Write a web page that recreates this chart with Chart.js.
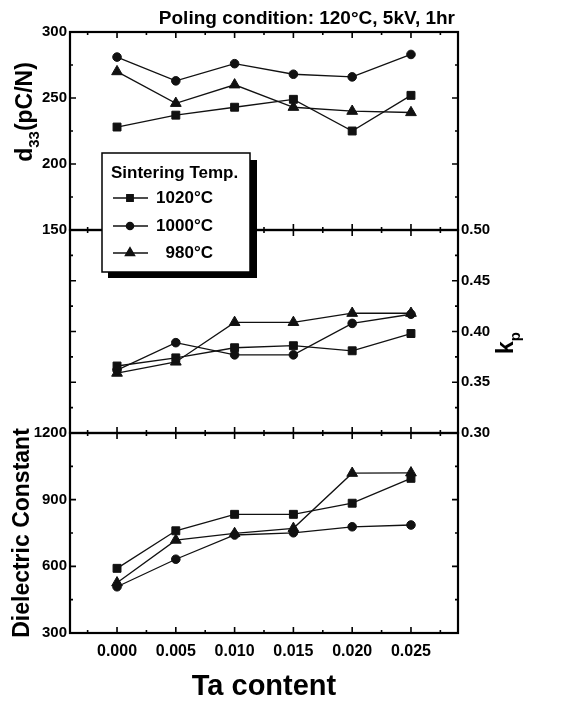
<!DOCTYPE html>
<html>
<head>
<meta charset="utf-8">
<script src="https://cdn.jsdelivr.net/npm/chart.js@4.4.1/dist/chart.umd.min.js"></script>
<style>
  body { margin: 0; background: #fff; }
  #wrap { position: relative; width: 575px; height: 705px; background: #fff; }
  #wrap canvas { position: absolute; left: 0; top: 0; }
</style>
</head>
<body>
<div id="wrap">
  <canvas id="epsChart" width="575" height="705"></canvas>
  <canvas id="kpChart" width="575" height="705"></canvas>
  <canvas id="d33Chart" width="575" height="705"></canvas>
</div>
<script>
// Ta content on the x axis
const taContent = [0.000, 0.005, 0.010, 0.015, 0.020, 0.025];
const xTicks = [0.000, 0.005, 0.010, 0.015, 0.020, 0.025];
const seriesLabels = ['1020°C', '1000°C', '980°C'];

// d33 (pC/N)
const d33_1020 = [228, 237, 243, 249, 225, 252];
const d33_1000 = [281, 263, 276, 268, 266, 283];
const d33_980 = [270, 246, 260, 243, 240, 239];
// kp
const kp_1020 = [0.366, 0.374, 0.384, 0.386, 0.381, 0.398];
const kp_1000 = [0.362, 0.389, 0.377, 0.377, 0.408, 0.417];
const kp_980 = [0.359, 0.370, 0.409, 0.409, 0.418, 0.418];
// dielectric constant
const eps_1020 = [591, 760, 834, 834, 884, 996];
const eps_1000 = [508, 632, 741, 751, 778, 786];
const eps_980 = [526, 718, 748, 771, 1019, 1021];

const d33Ticks = [150, 200, 250, 300];
const kpTicks = [0.30, 0.35, 0.40, 0.45, 0.50];
const epsTicks = [300, 600, 900, 1200];

const FONT = '"Liberation Sans", Arial, sans-serif';
const INK = '#111';
const pointStyles = ['rect', 'circle', 'triangle'];
const pointSizes = [5.6, 4.3, 6.2];

function makeSets(values) {
  return values.map((v, i) => ({
    label: seriesLabels[i],
    data: taContent.map((x, j) => ({ x: x, y: v[j] })),
    borderColor: INK,
    backgroundColor: INK,
    borderWidth: 1.3,
    pointStyle: pointStyles[i],
    pointRadius: pointSizes[i],
    pointBorderWidth: 1,
    tension: 0
  }));
}

// frame with inward major + minor ticks on all four sides
const framePlugin = {
  id: 'frame',
  afterDatasetsDraw(chart, args, opts) {
    const { ctx, chartArea: a, scales } = chart;
    const x = scales.x, y = scales.y;
    ctx.save();
    ctx.strokeStyle = '#000';
    ctx.lineWidth = 1.6;
    ctx.beginPath();
    const xs = [];
    xTicks.forEach(v => xs.push([v, 6], [v - 0.0025, 3]));
    xs.push([xTicks[xTicks.length - 1] + 0.0025, 3]);
    xs.forEach(([v, len]) => {
      const px = x.getPixelForValue(v);
      ctx.moveTo(px, a.top); ctx.lineTo(px, a.top + len);
      ctx.moveTo(px, a.bottom); ctx.lineTo(px, a.bottom - len);
    });
    const ys = [];
    opts.ticks.forEach((v, i) => {
      ys.push([v, 6]);
      if (i < opts.ticks.length - 1) ys.push([v + opts.step / 2, 3]);
    });
    ys.forEach(([v, len]) => {
      const py = y.getPixelForValue(v);
      ctx.moveTo(a.left, py); ctx.lineTo(a.left + len, py);
      ctx.moveTo(a.right, py); ctx.lineTo(a.right - len, py);
    });
    ctx.stroke();
    ctx.lineWidth = 2.2;
    ctx.strokeRect(a.left, a.top, a.right - a.left, a.bottom - a.top);
    ctx.restore();
  }
};

// rotated label with a subscript part
function drawSubLabel(ctx, cx, cy, main, sub, rest, size) {
  ctx.save();
  ctx.translate(cx, cy);
  ctx.rotate(-Math.PI / 2);
  ctx.fillStyle = '#000';
  ctx.textBaseline = 'alphabetic';
  const big = 'bold ' + size + 'px ' + FONT;
  const small = 'bold ' + Math.round(size * 0.65) + 'px ' + FONT;
  ctx.font = big; const w1 = ctx.measureText(main).width;
  const w3 = rest ? ctx.measureText(rest).width : 0;
  ctx.font = small; const w2 = ctx.measureText(sub).width;
  let x0 = -(w1 + w2 + w3) / 2;
  const base = size * 0.36;
  ctx.font = big; ctx.fillText(main, x0, base);
  ctx.font = small; ctx.fillText(sub, x0 + w1, base + size * 0.3);
  if (rest) { ctx.font = big; ctx.fillText(rest, x0 + w1 + w2, base); }
  ctx.restore();
}

const d33Extras = {
  id: 'd33Extras',
  afterDraw(chart) {
    const ctx = chart.ctx;
    ctx.save();
    // header
    ctx.fillStyle = '#000';
    ctx.font = 'bold 19px ' + FONT;
    ctx.textAlign = 'right';
    ctx.textBaseline = 'middle';
    ctx.fillText('Poling condition: 120°C, 5kV, 1hr', 455, 19);
    ctx.restore();
    drawSubLabel(ctx, 24, 112, 'd', '33', '(pC/N)', 23);

    // legend box with shadow
    ctx.save();
    ctx.fillStyle = '#000';
    ctx.fillRect(108, 160, 149, 118);
    ctx.fillStyle = '#fff';
    ctx.fillRect(102, 153, 148, 119);
    ctx.strokeStyle = '#000';
    ctx.lineWidth = 1.5;
    ctx.strokeRect(102, 153, 148, 119);
    ctx.fillStyle = '#000';
    ctx.font = 'bold 17px ' + FONT;
    ctx.textBaseline = 'middle';
    ctx.fillText('Sintering Temp.', 111, 173);
    const rows = [198, 226, 253];
    const legSizes = [4.6, 3.6, 5.4];
    chart.data.datasets.forEach((ds, i) => {
      const yy = rows[i];
      ctx.strokeStyle = INK; ctx.lineWidth = 1.3;
      ctx.beginPath(); ctx.moveTo(113, yy); ctx.lineTo(148, yy); ctx.stroke();
      ctx.fillStyle = INK;
      Chart.helpers.drawPoint(ctx, { pointStyle: ds.pointStyle, radius: legSizes[i], rotation: 0, borderWidth: 1 }, 130, yy);
      ctx.fillStyle = '#000';
      ctx.textAlign = 'right';
      ctx.fillText(ds.label, 213, yy);
    });
    ctx.restore();
  }
};

const kpExtras = {
  id: 'kpExtras',
  afterDraw(chart) {
    drawSubLabel(chart.ctx, 505, 343, 'k', 'p', '', 23);
  }
};

const tickFont = { family: FONT, size: 16, weight: 'bold' };
const yTickFont = { family: FONT, size: 15, weight: 'bold' };
const xHidden = { type: 'linear', display: false, min: -0.004, max: 0.029 };

new Chart(document.getElementById('d33Chart'), {
  type: 'line',
  data: { datasets: makeSets([d33_1020, d33_1000, d33_980]) },
  options: {
    responsive: false, animation: false,
    layout: { padding: { top: 32, bottom: 475, left: 0, right: 117 } },
    plugins: { legend: { display: false }, tooltip: { enabled: false },
      frame: { ticks: d33Ticks, step: 50 } },
    scales: {
      x: xHidden,
      y: {
        position: 'left', min: 150, max: 300,
        afterBuildTicks: s => { s.ticks = d33Ticks.map(v => ({ value: v })); },
        afterFit: s => { s.width = 70; },
        grid: { display: false, drawTicks: false }, border: { display: false },
        ticks: { font: yTickFont, color: '#000', padding: 3, callback: v => String(v) }
      }
    }
  },
  plugins: [framePlugin, d33Extras]
});

new Chart(document.getElementById('kpChart'), {
  type: 'line',
  data: { datasets: makeSets([kp_1020, kp_1000, kp_980]) },
  options: {
    responsive: false, animation: false,
    layout: { padding: { top: 230, bottom: 272, left: 70, right: 57 } },
    plugins: { legend: { display: false }, tooltip: { enabled: false },
      frame: { ticks: kpTicks, step: 0.05 } },
    scales: {
      x: xHidden,
      y: {
        position: 'right', min: 0.30, max: 0.50,
        afterBuildTicks: s => { s.ticks = kpTicks.map(v => ({ value: v })); },
        afterFit: s => { s.width = 60; },
        grid: { display: false, drawTicks: false }, border: { display: false },
        ticks: { font: yTickFont, color: '#000', padding: 3, callback: v => v.toFixed(2) }
      }
    }
  },
  plugins: [framePlugin, kpExtras]
});

new Chart(document.getElementById('epsChart'), {
  type: 'line',
  data: { datasets: makeSets([eps_1020, eps_1000, eps_980]) },
  options: {
    responsive: false, animation: false,
    layout: { padding: { top: 433, bottom: 0, left: 0, right: 117 } },
    plugins: { legend: { display: false }, tooltip: { enabled: false },
      frame: { ticks: epsTicks, step: 300 } },
    scales: {
      x: {
        type: 'linear', min: -0.004, max: 0.029,
        afterBuildTicks: s => { s.ticks = xTicks.map(v => ({ value: v })); },
        afterFit: s => { s.height = 72; },
        grid: { display: false, drawTicks: false }, border: { display: false },
        ticks: { font: tickFont, color: '#000', padding: 9, maxRotation: 0, callback: v => v.toFixed(3) },
        title: { display: true, text: 'Ta content', color: '#000',
          font: { family: FONT, size: 29, weight: 'bold' }, padding: { top: 2, bottom: 1 } }
      },
      y: {
        position: 'left', min: 300, max: 1200,
        afterBuildTicks: s => { s.ticks = epsTicks.map(v => ({ value: v })); },
        afterFit: s => { s.width = 70; },
        grid: { display: false, drawTicks: false }, border: { display: false },
        ticks: { font: yTickFont, color: '#000', padding: 3, callback: v => String(v) },
        title: { display: true, text: 'Dielectric Constant', color: '#000',
          font: { family: FONT, size: 23, weight: 'bold' }, padding: { top: 9, bottom: 0 } }
      }
    }
  },
  plugins: [framePlugin]
});
</script>
</body>
</html>
